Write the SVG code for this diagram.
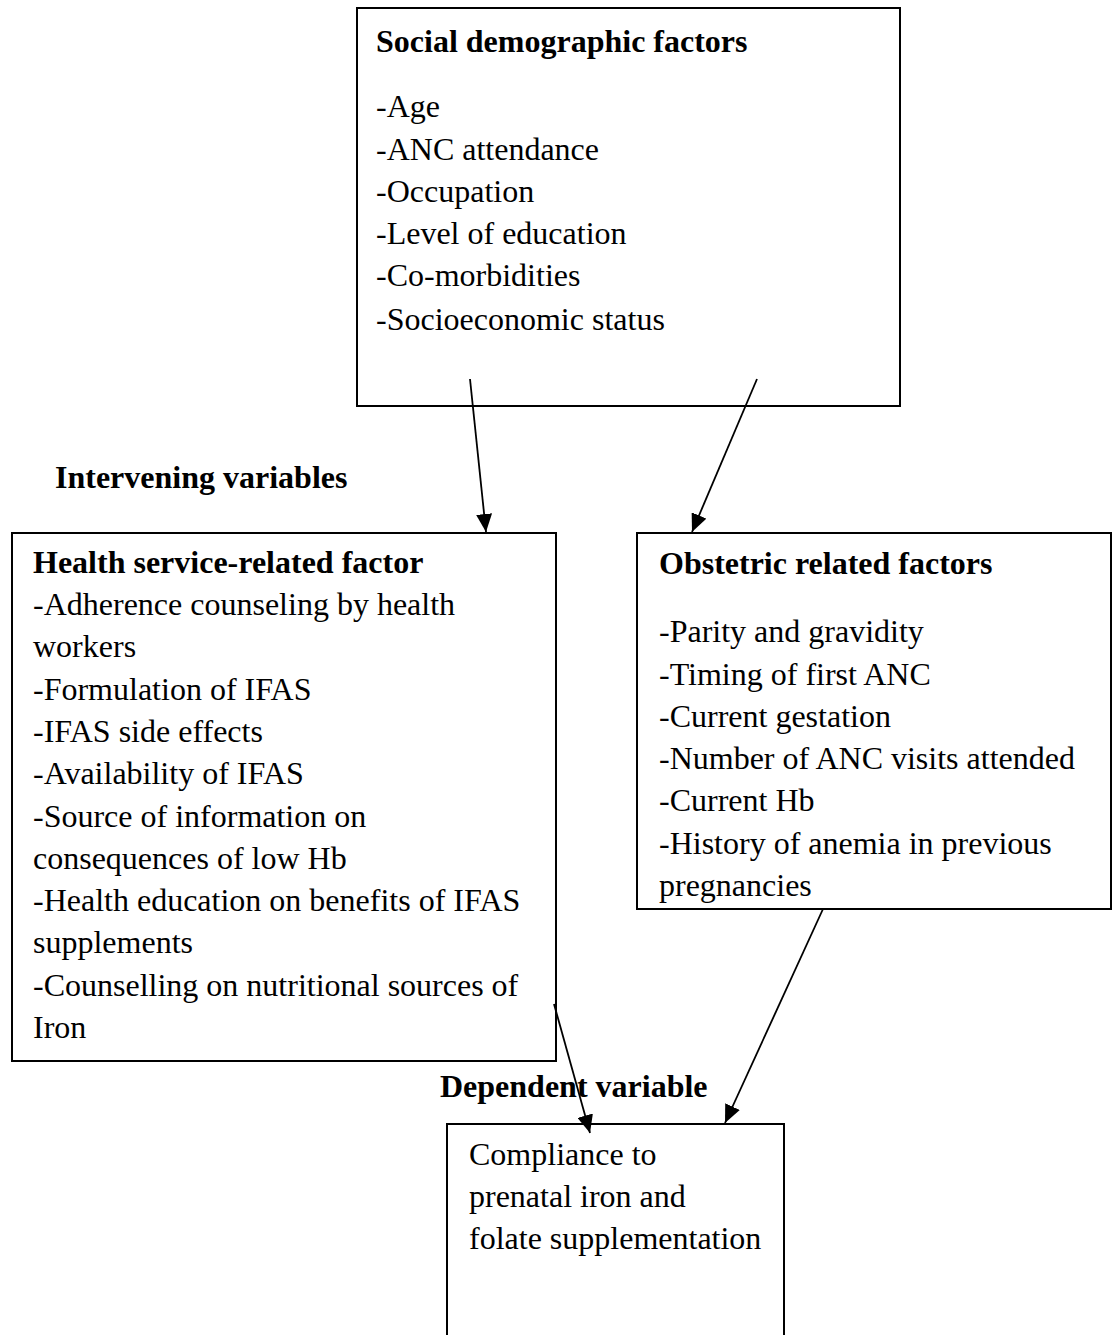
<svg xmlns="http://www.w3.org/2000/svg" width="1112" height="1335" viewBox="0 0 1112 1335">
<defs>
<style>
.box{fill:#fff;stroke:#000;stroke-width:2}
text{font-family:"Liberation Serif","Times New Roman",serif;font-size:32px;fill:#000}
.b{font-weight:bold}
.conn line{stroke:#000;stroke-width:1.8}
</style>
<marker id="ah" markerWidth="18" markerHeight="16" refX="18" refY="8" orient="auto" markerUnits="userSpaceOnUse" viewBox="0 0 18 16">
<path d="M0,0 L18,8 L0,16 z" fill="#000"/>
</marker>
</defs>
<rect width="1112" height="1335" fill="#fff"/>
<g id="social">
<rect class="box" x="357" y="8" width="543" height="398"/>
<text class="b" x="376" y="52">Social demographic factors</text>
<text x="376" y="117">-Age</text>
<text x="376" y="160">-ANC attendance</text>
<text x="376" y="202">-Occupation</text>
<text x="376" y="244">-Level of education</text>
<text x="376" y="286">-Co-morbidities</text>
<text x="376" y="330">-Socioeconomic status</text>
</g>
<g id="label-intervening"><text class="b" x="55" y="488">Intervening variables</text></g>
<g id="health">
<rect class="box" x="12" y="533" width="544" height="528"/>
<text class="b" x="33" y="573">Health service-related factor</text>
<text x="33" y="615">-Adherence counseling by health</text>
<text x="33" y="657">workers</text>
<text x="33" y="700">-Formulation of IFAS</text>
<text x="33" y="742">-IFAS side effects</text>
<text x="33" y="784">-Availability of IFAS</text>
<text x="33" y="827">-Source of information on</text>
<text x="33" y="869">consequences of low Hb</text>
<text x="33" y="911">-Health education on benefits of IFAS</text>
<text x="33" y="953">supplements</text>
<text x="33" y="996">-Counselling on nutritional sources of</text>
<text x="33" y="1038">Iron</text>
</g>
<g id="obstetric">
<rect class="box" x="637" y="533" width="474" height="376"/>
<text class="b" x="659" y="574">Obstetric related factors</text>
<text x="659" y="642">-Parity and gravidity</text>
<text x="659" y="685">-Timing of first ANC</text>
<text x="659" y="727">-Current gestation</text>
<text x="659" y="769">-Number of ANC visits attended</text>
<text x="659" y="811">-Current Hb</text>
<text x="659" y="854">-History of anemia in previous</text>
<text x="659" y="896">pregnancies</text>
</g>
<g id="label-dependent"><text class="b" x="440" y="1097">Dependent variable</text></g>
<g id="compliance">
<rect class="box" x="447" y="1124" width="337" height="230"/>
<text x="469" y="1165">Compliance to</text>
<text x="469" y="1207">prenatal iron and</text>
<text x="469" y="1249">folate supplementation</text>
</g>
<g id="connectors" class="conn">
<line x1="470" y1="379" x2="486" y2="532" marker-end="url(#ah)"/>
<line x1="757" y1="379" x2="692" y2="532" marker-end="url(#ah)"/>
<line x1="823" y1="909" x2="725" y2="1123" marker-end="url(#ah)"/>
<line x1="554" y1="1004" x2="590" y2="1133" marker-end="url(#ah)"/>
</g>
</svg>
